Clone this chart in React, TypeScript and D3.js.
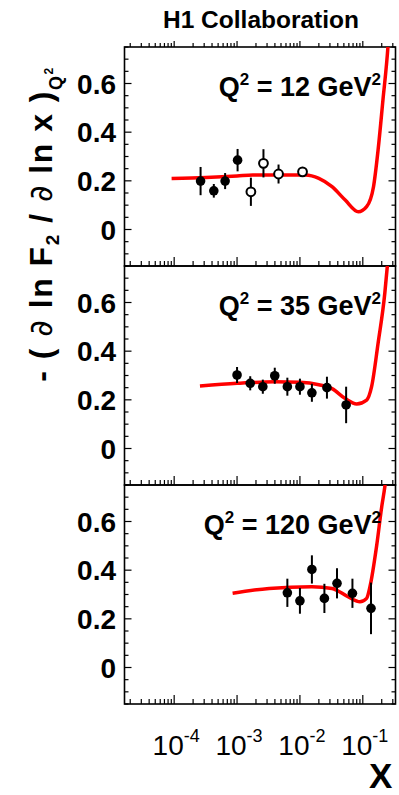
import React from 'react';
import * as d3 from 'd3';

// ---- data ----
const panelQ2 = ['12', '35', '120'];

const curve12X = [9.1e-5, 3.2e-4, 1.0e-3, 1.78e-3, 1.23e-2, 2.0e-2, 3.24e-2, 5.25e-2, 8.5e-2, 0.115, 0.148, 0.175, 0.209, 0.251, 0.28];
const curve12Y = [0.210, 0.214, 0.220, 0.224, 0.224, 0.210, 0.176, 0.121, 0.073, 0.094, 0.176, 0.327, 0.532, 0.75, 0.95];
const filled12X = [2.63e-4, 4.27e-4, 6.46e-4, 1.02e-3];
const filled12Y = [0.199, 0.159, 0.199, 0.285];
const filled12E = [0.058, 0.028, 0.033, 0.046];
const open12X = [1.66e-3, 2.63e-3, 4.57e-3, 1.1e-2];
const open12Y = [0.155, 0.272, 0.228, 0.237];
const open12E = [0.058, 0.058, 0.039, 0.02];

const curve35X = [2.57e-4, 1.0e-3, 3.98e-3, 1.0e-2, 2.0e-2, 3.24e-2, 5.25e-2, 8.0e-2, 0.115, 0.138, 0.175, 0.224, 0.245, 0.275];
const curve35Y = [0.257, 0.268, 0.274, 0.272, 0.262, 0.246, 0.205, 0.183, 0.199, 0.254, 0.433, 0.639, 0.747, 0.9];
const filled35X = [1.0e-3, 1.62e-3, 2.57e-3, 3.98e-3, 6.31e-3, 1.0e-2, 1.55e-2, 2.69e-2, 5.43e-2];
const filled35Y = [0.302, 0.268, 0.254, 0.299, 0.254, 0.254, 0.229, 0.250, 0.179];
const filled35E = [0.033, 0.029, 0.029, 0.033, 0.037, 0.033, 0.037, 0.045, 0.075];

const curve120X = [8.5e-4, 3.24e-3, 1.55e-2, 3.24e-2, 5.9e-2, 9.0e-2, 0.115, 0.13, 0.166, 0.2, 0.224, 0.25];
const curve120Y = [0.305, 0.325, 0.332, 0.325, 0.29, 0.270, 0.284, 0.332, 0.50, 0.661, 0.743, 0.85];
const filled120X = [6.31e-3, 1.0e-2, 1.55e-2, 2.45e-2, 3.89e-2, 6.84e-2, 0.135];
const filled120Y = [0.307, 0.274, 0.403, 0.284, 0.346, 0.305, 0.243];
const filled120E = [0.058, 0.053, 0.058, 0.06, 0.062, 0.06, 0.106];

const yTickLabels = [0, 0.2, 0.4, 0.6];
const xTickExps = [-4, -3, -2, -1];

const panels = [
  { q2: panelQ2[0], cx: curve12X, cy: curve12Y, fx: filled12X, fy: filled12Y, fe: filled12E, ox: open12X, oy: open12Y, oe: open12E },
  { q2: panelQ2[1], cx: curve35X, cy: curve35Y, fx: filled35X, fy: filled35Y, fe: filled35E, ox: [], oy: [], oe: [] },
  { q2: panelQ2[2], cx: curve120X, cy: curve120Y, fx: filled120X, fy: filled120Y, fe: filled120E, ox: [], oy: [], oe: [] },
];

// ---- layout ----
const W = 399, H = 795;
const left = 124.5, right = 395.5;
const tops = [47, 266, 485];
const ph = 219;
const FONT = 'Liberation Sans, Arial, sans-serif';

export default function App() {
  const x = d3.scaleLog().domain([Math.pow(10, -4.79), Math.pow(10, -0.48)]).range([left, right]);

  const xTicks: { v: number; major: boolean }[] = [];
  for (let e = -5; e <= -1; e++) {
    for (let m = 1; m <= 9; m++) {
      const v = m * Math.pow(10, e);
      const px = x(v);
      if (px > left + 1 && px < right - 1) xTicks.push({ v, major: m === 1 });
    }
  }
  const yTicksAll = d3.range(-0.15, 0.7501, 0.05).map(v => Math.round(v * 100) / 100);

  return (
    <svg width={W} height={H} style={{ position: 'absolute', left: 0, top: 0, background: '#fff' }} fontFamily={FONT}>
      <defs>
        {tops.map((t, i) => (
          <clipPath id={`clip${i}`} key={i}>
            <rect x={left} y={t} width={right - left} height={ph} />
          </clipPath>
        ))}
      </defs>
      <text x={261} y={28} textAnchor="middle" fontWeight="bold" fontSize={24.5}>H1 Collaboration</text>

      {panels.map((p, i) => {
        const t = tops[i];
        const y = d3.scaleLinear().domain([-0.15, 0.75]).range([t + ph, t]);
        const line = d3.line<number>().x((_, k) => x(p.cx[k])).y(d => y(d)).curve(d3.curveMonotoneX);
        return (
          <g key={i}>
            {yTickLabels.map(v => (
              <text key={v} x={116} y={y(v)} dy="0.36em" textAnchor="end" fontWeight="bold" fontSize={28}>{v === 0 ? '0' : v.toFixed(1)}</text>
            ))}
            {yTicksAll.map(v => {
              const major = Math.abs(Math.round(v * 100) % 20) === 0;
              const len = major ? 7 : 4;
              return (
                <g key={v}>
                  <line x1={left} x2={left + len} y1={y(v)} y2={y(v)} stroke="#000" strokeWidth={1.2} />
                  <line x1={right} x2={right - len} y1={y(v)} y2={y(v)} stroke="#000" strokeWidth={1.2} />
                </g>
              );
            })}
            {xTicks.map((tk, k) => (
              <line key={k} x1={x(tk.v)} x2={x(tk.v)} y1={t + ph} y2={t + ph - (tk.major ? 9 : 5)} stroke="#000" strokeWidth={1.2} />
            ))}
            {i === 0 && xTicks.map((tk, k) => (
              <line key={'t' + k} x1={x(tk.v)} x2={x(tk.v)} y1={t} y2={t - (tk.major ? 6 : 4)} stroke="#000" strokeWidth={1.2} />
            ))}
            <rect x={left} y={t} width={right - left} height={ph} fill="none" stroke="#000" strokeWidth={1.6} />

            <g clipPath={`url(#clip${i})`}>
              <path d={line(p.cy) || ''} fill="none" stroke="#ff0000" strokeWidth={3.5} />
            </g>

            {p.fx.map((xv, k) => (
              <g key={'f' + k}>
                <line x1={x(xv)} x2={x(xv)} y1={y(p.fy[k] - p.fe[k])} y2={y(p.fy[k] + p.fe[k])} stroke="#000" strokeWidth={2} />
                <circle cx={x(xv)} cy={y(p.fy[k])} r={4.8} fill="#000" />
              </g>
            ))}
            {p.ox.map((xv, k) => (
              <g key={'o' + k}>
                <line x1={x(xv)} x2={x(xv)} y1={y(p.oy[k] - p.oe[k])} y2={y(p.oy[k] + p.oe[k])} stroke="#000" strokeWidth={2} />
                <circle cx={x(xv)} cy={y(p.oy[k])} r={4.4} fill="#fff" stroke="#000" strokeWidth={2} />
              </g>
            ))}

            <text x={381} y={t + 49} textAnchor="end" fontWeight="bold" fontSize={27}>
              Q<tspan fontSize={17} dy={-11}>2</tspan><tspan dy={11}>{` = ${p.q2} GeV`}</tspan><tspan fontSize={17} dy={-11}>2</tspan>
            </text>
          </g>
        );
      })}

      {xTickExps.map(e => (
        <text key={e} x={x(Math.pow(10, e)) + 2} y={755} textAnchor="middle" fontSize={28}>
          10<tspan fontSize={18} dy={-13}>{String(e)}</tspan>
        </text>
      ))}
      <text x={369} y={788} fontWeight="bold" fontSize={35}>X</text>

      <text transform="translate(52,224) rotate(-90)" textAnchor="middle" fontWeight="bold" fontSize={32} letterSpacing={1.5}>
        {'- ( '}<tspan fontWeight="normal" fontFamily="DejaVu Sans">∂</tspan>{' ln F'}<tspan fontSize={19} dy={7}>2</tspan><tspan dy={-7}>{' / '}</tspan><tspan fontWeight="normal" fontFamily="DejaVu Sans">∂</tspan>{' ln x )'}<tspan fontSize={18} dy={10}>Q</tspan><tspan fontSize={12} dy={-9}>2</tspan>
      </text>
    </svg>
  );
}
